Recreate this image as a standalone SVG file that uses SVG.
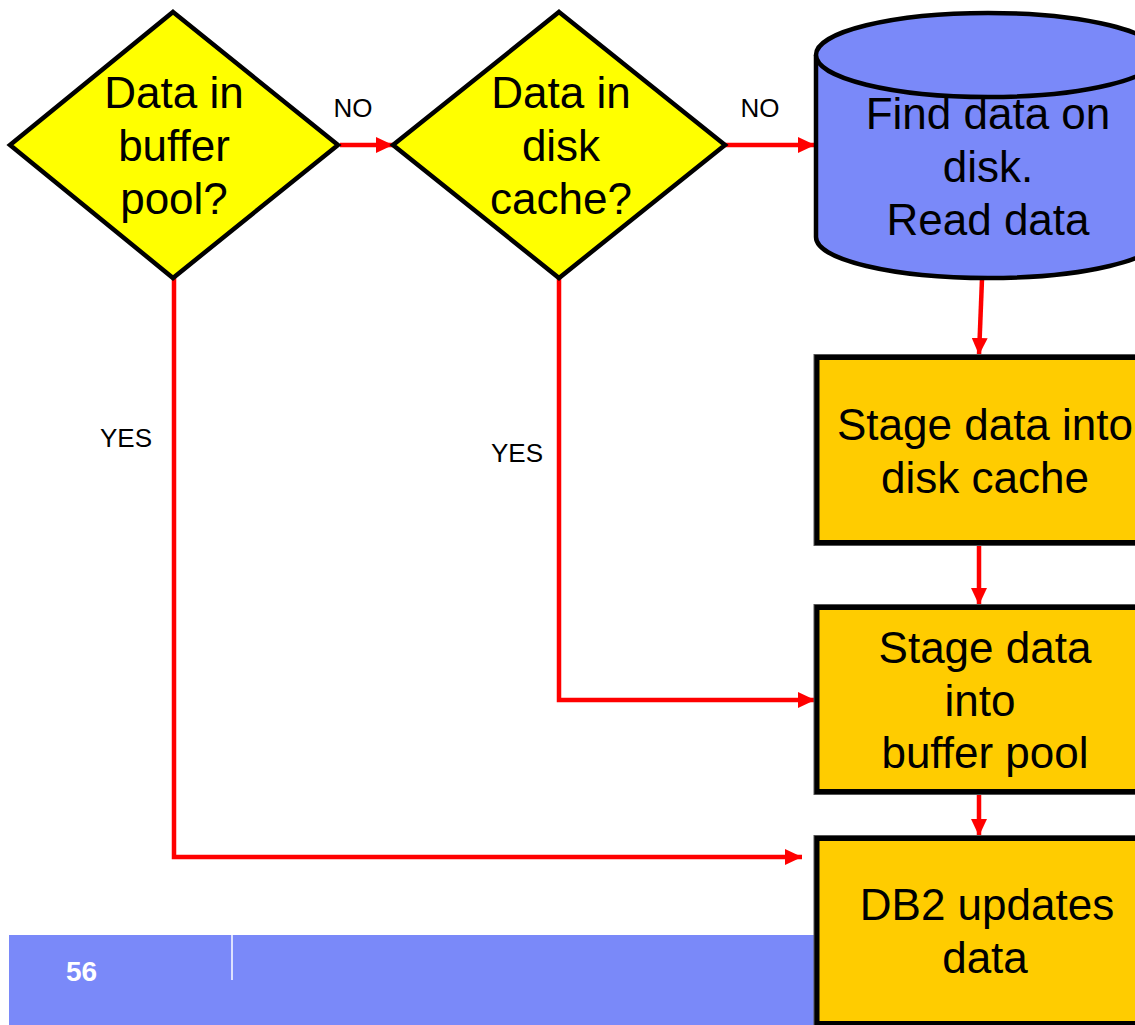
<svg xmlns="http://www.w3.org/2000/svg" width="1135" height="1025" viewBox="0 0 1135 1025">
  <style>
    .big { font-family: "Liberation Sans", Arial, sans-serif; font-size: 44px; fill: #000; text-anchor: middle; }
    .lbl { font-family: "Liberation Sans", Arial, sans-serif; font-size: 26px; fill: #000; text-anchor: middle; }
    .dec { fill: #FFFF00; stroke: #000; stroke-width: 4.5; stroke-linejoin: miter; }
    .box { fill: #FFCC00; stroke: #000; stroke-width: 5; }
    .edge { fill: none; stroke: #555; stroke-width: 7; }
    .disk { fill: #7A89F9; stroke: #000; stroke-width: 4.5; }
    .flow { fill: none; stroke: #FF0000; stroke-width: 4.5; marker-end: url(#arrow); }
  </style>
  <defs>
    <marker id="arrow" markerUnits="userSpaceOnUse" markerWidth="17" markerHeight="16" refX="17" refY="8" orient="auto">
      <path d="M0,0 L17,8 L0,16 Z" fill="#FF0000"/>
    </marker>
  </defs>

  <rect width="1135" height="1025" fill="#FFFFFF"/>

  <!-- footer band -->
  <g id="footer">
    <rect x="9" y="935" width="810" height="90" fill="#7A89F9"/>
    <line x1="232" y1="935" x2="232" y2="980" stroke="#FFFFFF" stroke-width="1.5"/>
    <text x="66" y="981" font-family="'Liberation Sans', Arial, sans-serif" font-size="28" font-weight="bold" fill="#FFFFFF">56</text>
  </g>

  <!-- connectors -->
  <g id="connectors">
    <path class="flow" d="M340,145 H393"/>
    <path class="flow" d="M725,145 H815"/>
    <path class="flow" d="M982,279 L979,355"/>
    <path class="flow" d="M979,545 V605"/>
    <path class="flow" d="M979,794 V836"/>
    <path class="flow" d="M559,278 V700 H815"/>
    <path class="flow" d="M174,278 V857 H802"/>
    <text class="lbl" x="353" y="117">NO</text>
    <text class="lbl" x="760" y="117">NO</text>
    <text class="lbl" x="126" y="447">YES</text>
    <text class="lbl" x="517" y="462">YES</text>
  </g>

  <g id="decision-buffer-pool">
    <polygon class="dec" points="173,12 338,145 173,278 10,145"/>
    <text class="big" x="174" y="108">Data in</text>
    <text class="big" x="174" y="161">buffer</text>
    <text class="big" x="174" y="214">pool?</text>
  </g>

  <g id="decision-disk-cache">
    <polygon class="dec" points="559,12 725,145 559,278 393,145"/>
    <text class="big" x="561" y="108">Data in</text>
    <text class="big" x="561" y="161">disk</text>
    <text class="big" x="561" y="214">cache?</text>
  </g>

  <g id="disk-read">
    <path class="disk" d="M816,55 V237 A172,41 0 0 0 1160,237 V55"/>
    <ellipse class="disk" cx="988" cy="55" rx="172" ry="42"/>
    <text class="big" x="988" y="129">Find data on</text>
    <text class="big" x="988" y="182">disk.</text>
    <text class="big" x="988" y="235">Read data</text>
  </g>

  <g id="stage-disk-cache">
    <rect class="edge" x="817" y="357.5" width="335" height="185"/>
    <rect class="box" x="817" y="357.5" width="335" height="185"/>
    <text class="big" x="985" y="440">Stage data into</text>
    <text class="big" x="985" y="493">disk cache</text>
  </g>

  <g id="stage-buffer-pool">
    <rect class="edge" x="817" y="607.5" width="335" height="184"/>
    <rect class="box" x="817" y="607.5" width="335" height="184"/>
    <text class="big" x="985" y="663">Stage data</text>
    <text class="big" x="980" y="716">into</text>
    <text class="big" x="985" y="768">buffer pool</text>
  </g>

  <g id="db2-update">
    <rect class="edge" x="817" y="838.5" width="335" height="185"/>
    <rect class="box" x="817" y="838.5" width="335" height="185"/>
    <text class="big" x="987" y="920">DB2 updates</text>
    <text class="big" x="985" y="973">data</text>
  </g>
</svg>
